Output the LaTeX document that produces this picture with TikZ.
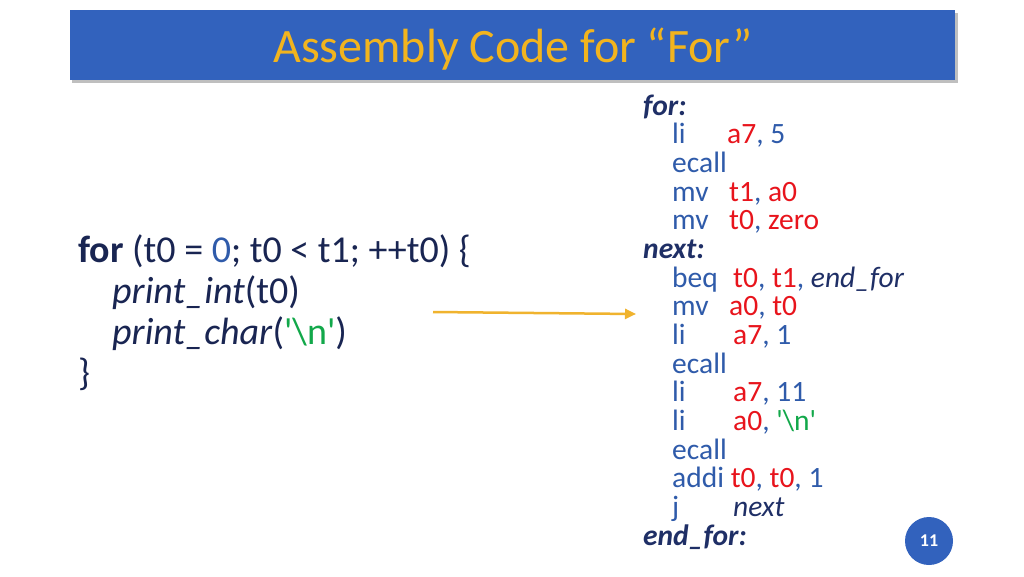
\documentclass[tikz,border=0pt]{standalone}
\usepackage{fontspec}
\setmainfont{Carlito}
\usetikzlibrary{arrows.meta,shadows}
\definecolor{barblue}{HTML}{3262BD}
\definecolor{gold}{HTML}{F2B41E}
\definecolor{mn}{HTML}{2F5BAA}
\definecolor{rg}{HTML}{E8141C}
\definecolor{lb}{HTML}{1F2F66}
\definecolor{gr}{HTML}{12A84A}
\definecolor{arr}{HTML}{F0B32E}
\begin{document}
\begin{tikzpicture}[x=1pt,y=-1pt,
 t/.style={anchor=base west,inner sep=0pt},
 asm/.style={t,font=\fontsize{29.5}{29.5}\selectfont,text=mn},
 lab/.style={t,font=\fontsize{29.5}{29.5}\selectfont\bfseries\itshape,text=lb},
 src/.style={t,font=\fontsize{38}{38}\selectfont,text=lb!80!black}]
\useasboundingbox[fill=white] (0,0) rectangle (1024,576);
\fill[black!25] (72,13) rectangle (958,83);
\node[fill=barblue,minimum width=885pt,minimum height=70pt,anchor=north west,inner sep=0] (bar) at (70,10) {};
\node[anchor=base,inner sep=0,text=gold,font=\fontsize{48}{48}\selectfont] (title) at (513,62) {Assembly Code for “For”};
% source
\node[src] (s1) at (78,262) {\textbf{for} (t0 = \textcolor{mn}{0}; t0 < t1; ++t0) \{};
\node[src] (s2) at (112,303) {\textit{print\_int}(t0)};
\node[src] (s3) at (112,344) {\textit{print\_char}(\textcolor{gr}{\textquotesingle\textbackslash n\textquotesingle})};
\node[src] (s4) at (78,385) {\}};
% asm
\node[lab] (l1) at (643,115) {for:};
\node[asm] (m1) at (672,143.7) {li}; \node[asm] (o1) at (727,143.7) {\textcolor{rg}{a7}, 5};
\node[asm] (m2) at (672,172.3) {ecall};
\node[asm] (m3) at (672,201) {mv}; \node[asm] (o3) at (729,201) {\textcolor{rg}{t1}, \textcolor{rg}{a0}};
\node[asm] (m4) at (672,229.7) {mv}; \node[asm] (o4) at (729,229.7) {\textcolor{rg}{t0}, \textcolor{rg}{zero}};
\node[lab] (l2) at (643,258.3) {next:};
\node[asm] (m5) at (672,287) {beq}; \node[asm] (o5) at (733,287) {\textcolor{rg}{t0}, \textcolor{rg}{t1}, \textcolor{lb}{\itshape end\_for}};
\node[asm] (m6) at (672,315.7) {mv}; \node[asm] (o6) at (729,315.7) {\textcolor{rg}{a0}, \textcolor{rg}{t0}};
\node[asm] (m7) at (672,344.3) {li}; \node[asm] (o7) at (733,344.3) {\textcolor{rg}{a7}, 1};
\node[asm] (m8) at (672,373) {ecall};
\node[asm] (m9) at (672,401.7) {li}; \node[asm] (o9) at (733,401.7) {\textcolor{rg}{a7}, 11};
\node[asm] (m10) at (672,430.3) {li}; \node[asm] (o10) at (733,430.3) {\textcolor{rg}{a0}, \textcolor{gr}{\textquotesingle\textbackslash n\textquotesingle}};
\node[asm] (m11) at (672,459) {ecall};
\node[asm] (m12) at (672,487.7) {addi \textcolor{rg}{t0}, \textcolor{rg}{t0}, 1};
\node[asm] (m13) at (672,516.3) {j}; \node[asm] (o13) at (733,516.3) {\textcolor{lb}{\itshape next}};
\node[lab] (l3) at (643,545) {end\_for:};
% arrow
\coordinate (a1) at (433,312); \coordinate (a2) at (636,314);
\draw[arr,line width=2.5pt,-{Triangle[length=11pt,width=10pt]}] (a1) -- (a2);
\node[circle,fill=barblue,minimum size=48pt,inner sep=0,text=white,font=\fontsize{18}{18}\selectfont\bfseries] (pg) at (929,541) {11};
\end{tikzpicture}
\end{document}
